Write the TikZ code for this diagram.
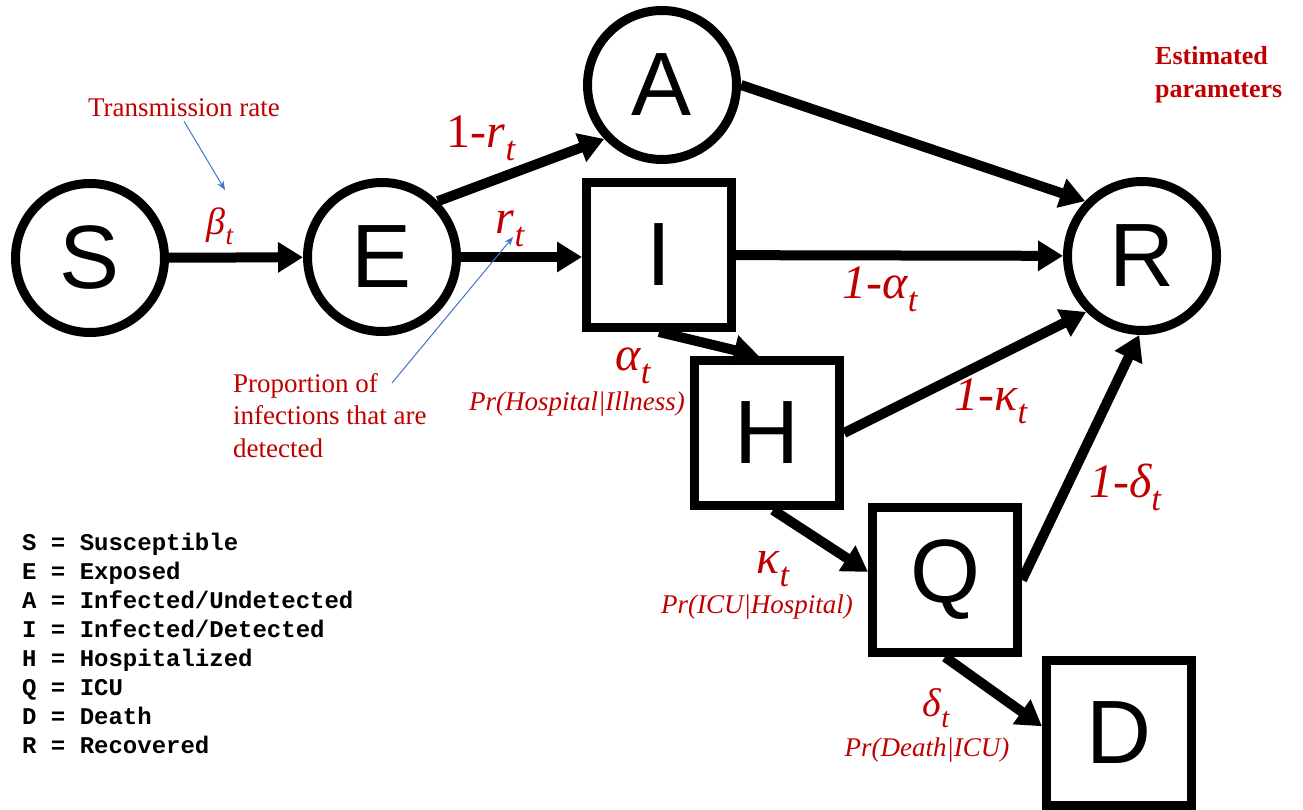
\documentclass[tikz,border=0pt]{standalone}
\usepackage{fontspec}
\setmainfont{Liberation Serif}
\newfontfamily\nodefont{Liberation Sans}
\newfontfamily\legfont{Liberation Mono}
\usepackage{graphicx}
\usetikzlibrary{arrows.meta}
\definecolor{lblred}{RGB}{192,0,0}
\definecolor{annblue}{RGB}{68,114,196}
\newcommand\tsub{\raisebox{-0.27em}{\scalebox{0.72}{\itshape t}}}
\begin{document}
\begin{tikzpicture}[x=1pt,y=-1pt,
  state/.style={circle,draw,line width=9pt,minimum size=149pt,inner sep=0pt,
    font=\nodefont\fontsize{90}{90}\selectfont},
  box/.style={rectangle,draw,line width=9pt,minimum size=145pt,inner sep=0pt,
    font=\nodefont\fontsize{90}{90}\selectfont},
  flow/.style={line width=10pt,-{Triangle[length=25pt,width=29pt]}},
  lbl/.style={text=lblred,inner sep=0pt,font=\fontsize{48}{50}\selectfont},
  prlbl/.style={text=lblred,inner sep=0pt,font=\itshape\fontsize{27}{30}\selectfont},
  note/.style={text=lblred,inner sep=0pt,font=\fontsize{27}{32.5}\selectfont},
  ann/.style={draw=annblue,line width=1pt,-{Stealth[length=9pt,width=7pt]}},
  leg/.style={inner sep=0pt,font=\legfont\bfseries\fontsize{24}{29}\selectfont}]
\useasboundingbox (0,0) rectangle (1303,810);

% states
\node[state] (S) at (90,258) {S};
\node[state] (E) at (382,257) {E};
\node[state] (A) at (662,85) {A};
\node[box]   (I) at (659,255) {I};
\node[state] (R) at (1142,256) {R};
\node[box]   (H) at (767,433) {H};
\node[box]   (Q) at (945,580) {Q};
\node[box]   (D) at (1119,733) {D};

% flows
\draw[flow] (S) -- (E);
\draw[flow] (E.45) -- (A.223);
\draw[flow] (E) -- (I.west |- E);
\draw[flow] (A.east) -- (R.136);
\draw[flow] (I) -- (R);
\draw[flow] (I.south) -- (H.96);
\draw[flow] (H.east) -- (R.225);
\draw[flow] ([xshift=6pt]H.south) -- (Q.174);
\draw[flow] (Q.east) -- (R.268);
\draw[flow] (Q.south) -- (D.175);

% flow labels
\node[lbl,font=\fontsize{38}{40}\selectfont] (lbeta) at (220,226) {\itshape β\tsub};
\node[lbl] (l1r) at (481,138) {1-\itshape r\tsub};
\node[lbl] (lr) at (510,229) {\itshape r\tsub};
\node[lbl] (l1a) at (880,289) {\itshape 1-α\tsub};
\node[lbl] (l1k) at (991,401) {\itshape 1-κ\tsub};
\node[lbl] (l1d) at (1125,487) {\itshape 1-δ\tsub};
\node[lbl] (la) at (633,366) {\itshape α\tsub};
\node[prlbl] (pra) at (577,404) {Pr(Hospital|Illness)};
\node[lbl] (lk) at (773,569) {\itshape κ\tsub};
\node[prlbl] (prk) at (757,607) {Pr(ICU|Hospital)};
\node[lbl,font=\fontsize{40}{42}\selectfont] (ld) at (936,708) {\itshape δ\tsub};
\node[prlbl] (prd) at (927,750) {Pr(Death|ICU)};

% annotations
\node[note] (trans) at (184,108) {Transmission rate};
\coordinate (betatip) at (225,190);
\draw[ann] ([yshift=-4pt]trans.south) -- (betatip);
\node[note,align=left,anchor=north west] (prop) at (233,373)
  {Proportion of\\infections that are\\detected};
\coordinate (proptail) at (392,383);
\coordinate (rtip) at (513,237);
\draw[ann] (proptail) -- (rtip);
\node[note,font=\bfseries\fontsize{26}{33}\selectfont,align=left,anchor=north west]
  (est) at (1155,46) {Estimated\\parameters};

% legend
\foreach \t [count=\i] in {S = Susceptible, E = Exposed, A = Infected/Undetected,
  I = Infected/Detected, H = Hospitalized, Q = ICU, D = Death, R = Recovered}
  \node[leg,anchor=base west] (leg\i) at (22,{550+29*(\i-1)}) {\t};
\end{tikzpicture}
\end{document}
